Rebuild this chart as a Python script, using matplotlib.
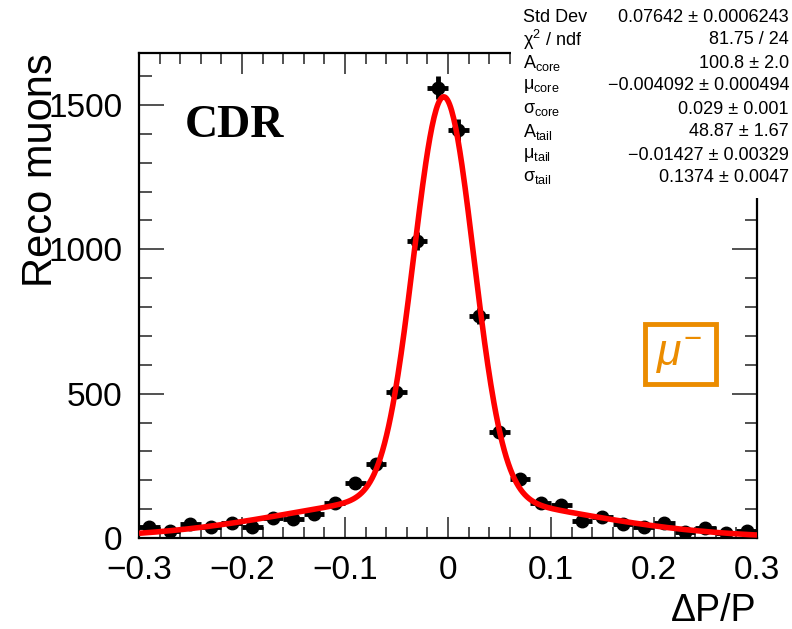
import numpy as np
import matplotlib.pyplot as plt
from matplotlib.ticker import MultipleLocator
from matplotlib.patches import Rectangle

plt.rcParams['font.family'] = ['Liberation Sans', 'DejaVu Sans']
plt.rcParams['mathtext.fontset'] = 'custom'
plt.rcParams['mathtext.rm'] = 'Liberation Sans'
plt.rcParams['mathtext.it'] = 'Liberation Sans:italic'

# histogram of dP/P, 30 bins of width 0.02 between -0.3 and 0.3
bin_centers = np.round(np.arange(-0.29, 0.30, 0.02), 2)
counts = [38, 24, 48, 38, 52, 38, 69, 66, 83, 121,
          190, 256, 506, 1029, 1559, 1413, 769, 367, 204, 121,
          114, 59, 73, 48, 38, 52, 21, 35, 17, 24]

# double gaussian fit results
A_core, mu_core, sigma_core = 100.8, -0.004092, 0.029
A_tail, mu_tail, sigma_tail = 48.87, -0.01427, 0.1374

stat_names = ['Std Dev', r'χ$^{2}$ / ndf',
              r'A$_{\mathrm{core}}$', r'μ$_{\mathrm{core}}$', r'σ$_{\mathrm{core}}$',
              r'A$_{\mathrm{tail}}$', r'μ$_{\mathrm{tail}}$', r'σ$_{\mathrm{tail}}$']
stat_values = ['0.07642 ± 0.0006243', '81.75 / 24',
               '100.8 ± 2.0', '−0.004092 ± 0.000494', '0.029 ± 0.001',
               '48.87 ± 1.67', '−0.01427 ± 0.00329', '0.1374 ± 0.0047']


def gaus(x, a, mu, s):
    return a / (np.sqrt(2 * np.pi) * s) * np.exp(-0.5 * ((x - mu) / s) ** 2)


fig = plt.figure(figsize=(7.92, 6.29), dpi=100)
ax = fig.add_axes([0.1755, 0.1447, 0.7803, 0.7711])

counts = np.array(counts)
ax.errorbar(bin_centers, counts, xerr=0.01, yerr=np.sqrt(counts),
            fmt='o', color='black', ms=9, elinewidth=3.5, capsize=0, zorder=2)

xs = np.linspace(-0.3, 0.3, 600)
ax.plot(xs, gaus(xs, A_core, mu_core, sigma_core) + gaus(xs, A_tail, mu_tail, sigma_tail),
        color='red', lw=4, zorder=3, solid_capstyle='butt')

ax.set_xlim(-0.3, 0.3)
ax.set_ylim(0, 1680)
ax.xaxis.set_minor_locator(MultipleLocator(0.02))
ax.yaxis.set_major_locator(MultipleLocator(500))
ax.yaxis.set_minor_locator(MultipleLocator(100))
ax.set_xticks([-0.3, -0.2, -0.1, 0, 0.1, 0.2, 0.3])
ax.set_xticklabels(['−0.3', '−0.2', '−0.1', '0', '0.1', '0.2', '0.3'])

ax.tick_params(which='both', direction='in', top=True, right=True,
               labelsize=24, color='#333333', width=1.2)
ax.tick_params(axis='x', which='major', length=15, pad=12)
ax.tick_params(axis='x', which='minor', length=8)
ax.tick_params(axis='y', which='major', length=18, pad=12)
ax.tick_params(axis='y', which='minor', length=9)
for sp in ax.spines.values():
    sp.set_linewidth(1.6)

ax.set_ylabel('Reco muons', fontsize=30, loc='top')
ax.yaxis.set_label_coords(-0.126, 1.0)
ax.set_xlabel('ΔP/P', fontsize=27, loc='right')
ax.xaxis.set_label_coords(1.0, -0.114)

fig.text(185 / 792, 1 - 137 / 629, 'CDR', family='Liberation Serif',
         weight='bold', fontsize=33, ha='left', va='baseline')

# mu- label in an orange frame
orange = '#EB8C00'
fig.text(679 / 792, 1 - 356 / 629, r'$\mu^{-}$', color=orange, fontsize=32,
         ha='center', va='center')
fig.patches.append(Rectangle((645 / 792, 1 - 384 / 629), 71 / 792, 60 / 629,
                             transform=fig.transFigure, fill=False,
                             edgecolor=orange, lw=3.5))

# statistics box
fig.patches.append(Rectangle((511 / 792, 1 - 198 / 629), 281 / 792, 198 / 629,
                             transform=fig.transFigure, facecolor='white',
                             edgecolor='none', zorder=5))
row_y = [17, 40, 63, 86, 109, 132, 155, 178]
for name, val, y in zip(stat_names, stat_values, row_y):
    fig.text(523 / 792, 1 - y / 629, name, fontsize=13, ha='left', va='center', zorder=6)
    fig.text(789 / 792, 1 - y / 629, val, fontsize=13, ha='right', va='center', zorder=6)

fig.savefig('out.png', dpi=100)
